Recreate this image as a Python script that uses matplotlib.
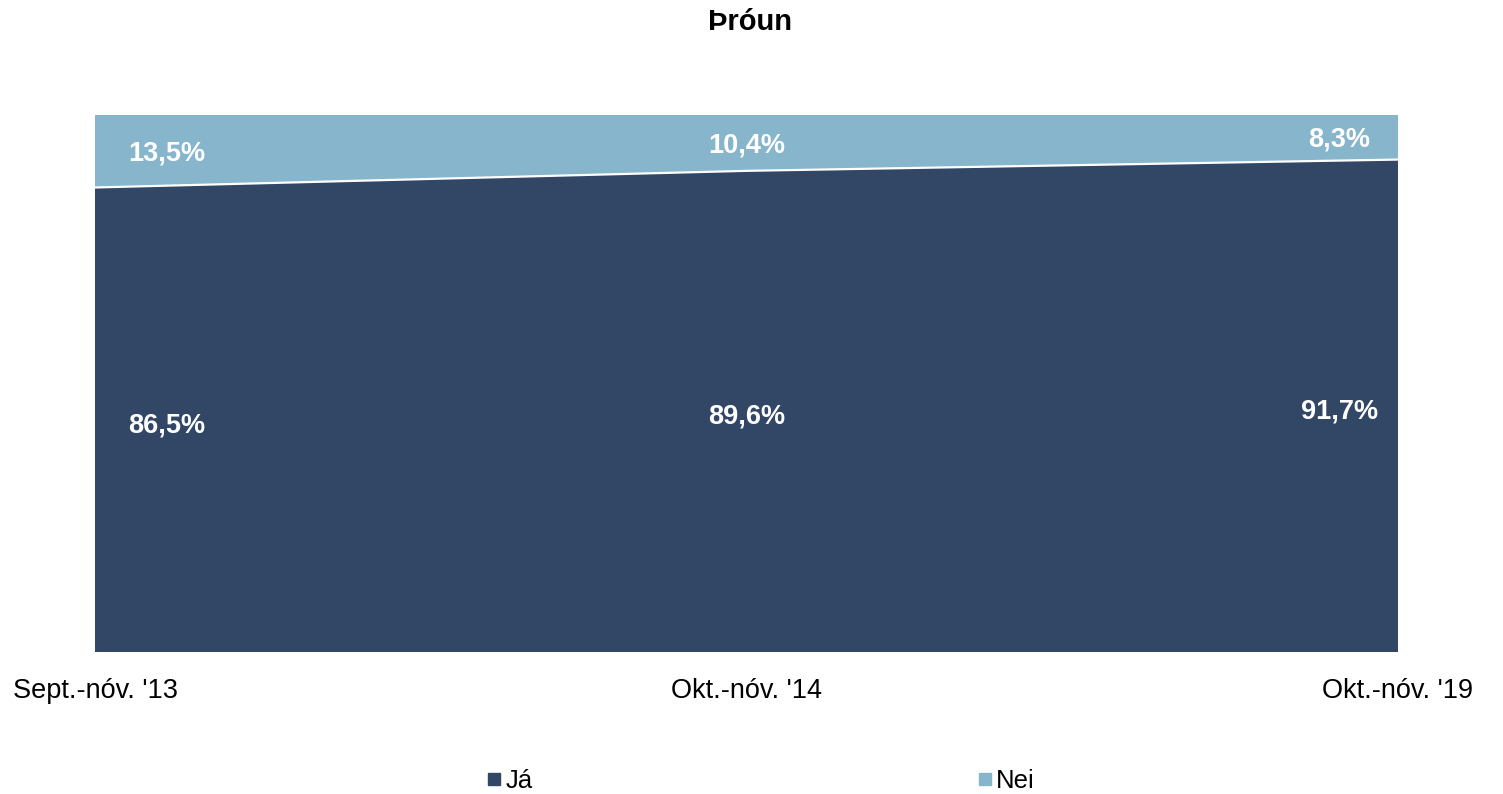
import numpy as np
import matplotlib.pyplot as plt
from matplotlib.lines import Line2D

plt.rcParams['font.family'] = ['Liberation Sans', 'DejaVu Sans']

periods = ["Sept.-nóv. '13", "Okt.-nóv. '14", "Okt.-nóv. '19"]
ja = [86.5, 89.6, 91.7]
nei = [13.5, 10.4, 8.3]

c_ja = '#324665'
c_nei = '#86b5cc'

fig = plt.figure(figsize=(15.03, 7.94), dpi=100)
ax = fig.add_axes([95/1503, 1-652/794, (1398-95)/1503, (652-115)/794])

x = np.arange(len(periods))
ax.stackplot(x, ja, nei, colors=[c_ja, c_nei], linewidth=0)
ax.plot(x, ja, color='white', lw=1.6)

ax.set_xlim(0, 2)
ax.set_ylim(0, 100)
ax.set_xticks(x)
ax.set_xticklabels(periods, fontsize=19.5)
ax.tick_params(axis='x', length=0, pad=19)
ax.set_yticks([])
for s in ax.spines.values():
    s.set_visible(False)

# data labels, nudged inward at the edges
offs = [0.11, 0, -0.09]
for i in range(len(x)):
    ax.text(x[i] + offs[i], ja[i] / 2 - 1, f"{ja[i]:.1f}%".replace('.', ','),
            color='white', fontsize=19.5, fontweight='bold', ha='center', va='center')
    ax.text(x[i] + offs[i], ja[i] + nei[i] / 2 - 0.5, f"{nei[i]:.1f}%".replace('.', ','),
            color='white', fontsize=19.5, fontweight='bold', ha='center', va='center')

fig.text(750/1503, 1-22/794, 'Þróun', fontsize=21, fontweight='bold', ha='center', va='center')

handles = [Line2D([], [], marker='s', ls='', color=c_ja, markersize=8.6),
           Line2D([], [], marker='s', ls='', color=c_nei, markersize=8.6)]
fig.legend(handles, ['Já', 'Nei'], loc='center', bbox_to_anchor=(0.5 + 9/1503, 1-781/794),
           ncol=2, frameon=False, fontsize=18.5, handlelength=0.6, handletextpad=0.15,
           columnspacing=17.3)

fig.savefig('out.png', dpi=100)
